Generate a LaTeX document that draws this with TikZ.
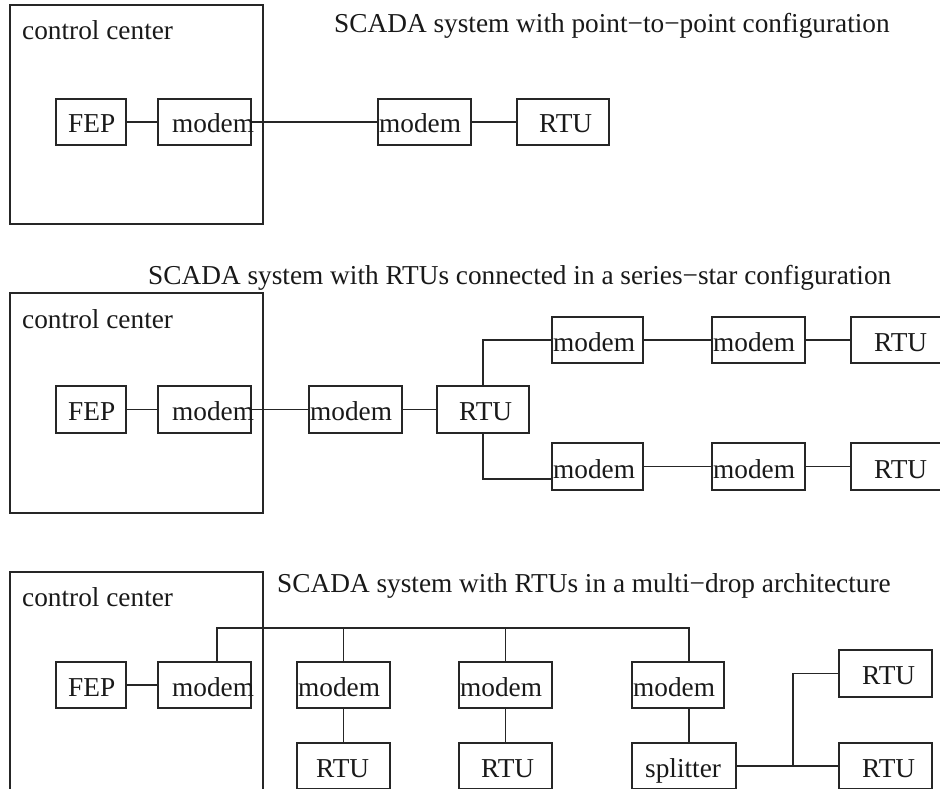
\documentclass[tikz,border=0pt]{standalone}
\usepackage{fontspec}
\setmainfont{Liberation Serif}
\usetikzlibrary{calc}
\begin{document}
\begin{tikzpicture}[x=1pt,y=-1pt,
  box/.style={draw=black!85,line width=1.4pt,rectangle,inner sep=0pt,minimum width=#1,minimum height=46pt},
  box/.default=93pt,
  lbl/.style={inner sep=0pt,anchor=base west,text=black!90,font=\fontsize{27.3}{30}\selectfont},
  ln/.style={draw=black!85,line width=1.4pt}]
\useasboundingbox (0,0) rectangle (940,789);
\clip (0,0) rectangle (940,789);
\fill[white] (0,0) rectangle (940,789);

% ---------- top panel ----------
\node[box, minimum width=253pt, minimum height=219pt] (cc1) at (136.5,114.5) {};
\node[box=70pt] (fep1) at (91,122) {};
\node[box] (mdm1) at (204.5,122) {};
\node[box] (rmd1) at (424.5,122) {};
\node[box=92pt] (rtu1) at (563,122) {};
\node[lbl] (t1) at (334,33) {SCADA system with point−to−point configuration};
\node[lbl] (c1) at (22,40) {control center};
\node[lbl] (fep1t) at (68,133) {FEP};
\node[lbl] (mdm1t) at (172,133) {modem};
\node[lbl] (rmd1t) at (379,133) {modem};
\node[lbl] (rtu1t) at (539,133) {RTU};
\draw[ln] (fep1.east) -- (mdm1.west);
\draw[ln] (mdm1.east) -- (rmd1.west);
\draw[ln] (rmd1.east) -- (rtu1.west);

% ---------- middle panel ----------
\node[box, minimum width=253pt, minimum height=220pt] (cc2) at (136.5,403) {};
\node[box=70pt, minimum height=47pt] (fep2) at (91,409.5) {};
\node[box, minimum height=47pt] (mdm2) at (204.5,409.5) {};
\node[box, minimum height=47pt] (rmd2) at (355.5,409.5) {};
\node[box=92pt, minimum height=47pt] (rtu2) at (483,409.5) {};
\node[box=91pt] (ua) at (597.5,340) {};
\node[box] (ub) at (758.5,340) {};
\node[box=99pt] (ur) at (900.5,340) {};
\node[box=91pt, minimum height=47pt] (la) at (597.5,466.5) {};
\node[box, minimum height=47pt] (lb) at (758.5,466.5) {};
\node[box=99pt, minimum height=47pt] (lr) at (900.5,466.5) {};
\node[lbl] (t2) at (148,284) {SCADA system with RTUs connected in a series−star configuration};
\node[lbl] (c2) at (22,328) {control center};
\node[lbl] (fep2t) at (68,420.5) {FEP};
\node[lbl] (mdm2t) at (172,420.5) {modem};
\node[lbl] (rmd2t) at (310,420.5) {modem};
\node[lbl] (rtu2t) at (459,420.5) {RTU};
\node[lbl] (uat) at (553,351) {modem};
\node[lbl] (ubt) at (713,351) {modem};
\node[lbl] (urt) at (874,351) {RTU};
\node[lbl] (lat) at (553,478) {modem};
\node[lbl] (lbt) at (713,478) {modem};
\node[lbl] (lrt) at (874,478) {RTU};
\draw[ln] (fep2.east) -- (mdm2.west);
\draw[ln] (mdm2.east) -- (rmd2.west);
\draw[ln] (rmd2.east) -- (rtu2.west);
\draw[ln] (rtu2.north) |- (ua.west);
\draw[ln] (rtu2.south) |- ($(la.west)+(0,12.5)$);
\draw[ln] (ua.east) -- (ub.west);
\draw[ln] (ub.east) -- (ur.west);
\draw[ln] (la.east) -- (lb.west);
\draw[ln] (lb.east) -- (lr.west);

% ---------- bottom panel ----------
\node[box, minimum width=253pt, minimum height=228pt] (cc3) at (136.5,686) {};
\node[box=70pt] (fep3) at (91,685) {};
\node[box] (mdm3) at (204.5,685) {};
\node[box] (d1m) at (343.5,685) {};
\node[box] (d1r) at (343.5,766) {};
\node[box] (d2m) at (505.5,685) {};
\node[box] (d2r) at (505.5,766) {};
\node[box=92pt] (d3m) at (678,685) {};
\node[box=104pt] (spl) at (684,766) {};
\node[box, minimum height=47pt] (sr1) at (885.5,673.5) {};
\node[box] (sr2) at (885.5,766) {};
\node[lbl] (t3) at (277,592) {SCADA system with RTUs in a multi−drop architecture};
\node[lbl] (c3) at (22,606) {control center};
\node[lbl] (fep3t) at (68,696) {FEP};
\node[lbl] (mdm3t) at (172,696) {modem};
\node[lbl] (d1mt) at (298,696) {modem};
\node[lbl] (d2mt) at (460,696) {modem};
\node[lbl] (d3mt) at (633,696) {modem};
\node[lbl] (d1rt) at (316,777) {RTU};
\node[lbl] (d2rt) at (481,777) {RTU};
\node[lbl] (splt) at (645,777) {splitter};
\node[lbl] (sr1t) at (862,684.5) {RTU};
\node[lbl] (sr2t) at (862,777) {RTU};
\coordinate (bus) at (0,628);
\coordinate (b1) at ($(mdm3.north)+(12.5,0)$);
\coordinate (b4) at ($(d3m.north)+(11,0)$);
\coordinate (jn) at (793,766);
\draw[ln] (fep3.east) -- (mdm3.west);
\draw[ln] (b1) -- (b1 |- bus) -- (b4 |- bus) -- (b4);
\draw[ln] (d1m.north) -- (d1m.north |- bus);
\draw[ln] (d2m.north) -- (d2m.north |- bus);
\draw[ln] (d1m.south) -- (d1r.north);
\draw[ln] (d2m.south) -- (d2r.north);
\draw[ln] (b4 |- d3m.south) -- (b4 |- spl.north);
\draw[ln] (spl.east) -- (sr2.west);
\draw[ln] (jn) |- (sr1.west);
\end{tikzpicture}
\end{document}
